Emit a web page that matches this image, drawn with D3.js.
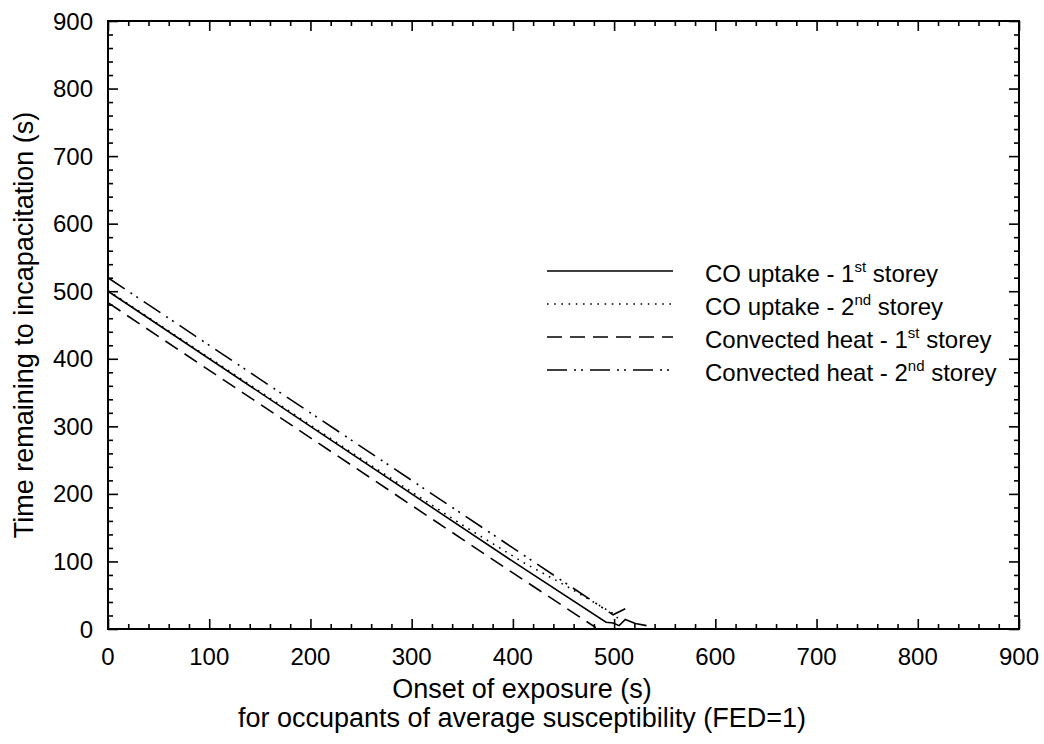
<!DOCTYPE html>
<html>
<head>
<meta charset="utf-8">
<script src="https://cdn.jsdelivr.net/npm/d3@7"></script>
<style>
  html, body { margin: 0; padding: 0; background: #fff; }
  svg { display: block; font-family: Arial, "Liberation Sans", sans-serif; }
</style>
</head>
<body>
<svg id="chart" width="1044" height="744"></svg>
<script>
// ---- data ----
const xTicks = [0, 100, 200, 300, 400, 500, 600, 700, 800, 900];
const yTicks = [0, 100, 200, 300, 400, 500, 600, 700, 800, 900];

const coUptake1st = [[0, 500], [200, 300], [400, 100], [492, 10], [499, 9], [505, 5], [511, 14], [521, 8], [532, 5]];
const coUptake2nd = [[0, 501], [250, 252], [350, 154], [412, 97], [450, 66], [500, 22], [506, 12]];
const heat1st = [[0, 483], [200, 283], [400, 83], [482, 2]];
const heat2nd = [[0, 520], [200, 320], [400, 120], [499, 21], [511, 30]];

const seriesNames = ["CO uptake - 1", "CO uptake - 2", "Convected heat - 1", "Convected heat - 2"];
const seriesSup = ["st", "nd", "st", "nd"];

// ---- layout ----
const W = 1044, H = 744;
const m = { left: 108, right: 25, top: 21, bottom: 115 };
const svg = d3.select("#chart");
const x = d3.scaleLinear().domain([0, 900]).range([m.left, W - m.right]);
const y = d3.scaleLinear().domain([0, 900]).range([H - m.bottom, m.top]);
const FS = 24;   // tick labels and legend
const TFS = 27;  // axis titles

const minor = d3.range(0, 901, 20);

function tickAxis(axisFn, scale, translate, size, vals) {
  const g = svg.append("g").attr("transform", translate)
    .call(axisFn(scale).tickValues(vals).tickSize(size).tickFormat(""));
  g.select(".domain").remove();
  g.selectAll("line").attr("stroke", "#000").attr("stroke-width", 1.6);
  return g;
}
const minorOnly = minor.filter(v => v % 100 !== 0);
// bottom (inward = negative size)
tickAxis(d3.axisBottom, x, `translate(0,${y(0)})`, -5, minorOnly);
tickAxis(d3.axisBottom, x, `translate(0,${y(0)})`, -10, xTicks);
// top
tickAxis(d3.axisTop, x, `translate(0,${y(900)})`, -5, minorOnly);
tickAxis(d3.axisTop, x, `translate(0,${y(900)})`, -10, xTicks);
// left
tickAxis(d3.axisLeft, y, `translate(${x(0)},0)`, -5, minorOnly);
tickAxis(d3.axisLeft, y, `translate(${x(0)},0)`, -10, yTicks);
// right
tickAxis(d3.axisRight, y, `translate(${x(900)},0)`, -5, minorOnly);
tickAxis(d3.axisRight, y, `translate(${x(900)},0)`, -10, yTicks);

// frame
svg.append("rect")
  .attr("x", x(0)).attr("y", y(900))
  .attr("width", x(900) - x(0)).attr("height", y(0) - y(900))
  .attr("fill", "none").attr("stroke", "#000").attr("stroke-width", 2);

// tick labels
svg.append("g").selectAll("text").data(xTicks).join("text")
  .attr("x", d => x(d)).attr("y", y(0) + 36)
  .attr("text-anchor", "middle").attr("font-size", FS).text(d => d);
svg.append("g").selectAll("text").data(yTicks).join("text")
  .attr("x", x(0) - 15).attr("y", d => y(d) + 8.5)
  .attr("text-anchor", "end").attr("font-size", FS).text(d => d);

// axis titles (centred on the figure width)
svg.append("text").attr("x", W / 2).attr("y", 698)
  .attr("text-anchor", "middle").attr("font-size", TFS).text("Onset of exposure (s)");
svg.append("text").attr("x", W / 2).attr("y", 727)
  .attr("text-anchor", "middle").attr("font-size", TFS).text("for occupants of average susceptibility (FED=1)");
svg.append("text")
  .attr("transform", `translate(33,${(y(0) + y(900)) / 2}) rotate(-90)`)
  .attr("text-anchor", "middle").attr("font-size", TFS).text("Time remaining to incapacitation (s)");

// lines
const line = d3.line().x(d => x(d[0])).y(d => y(d[1]));
const styles = [
  { data: coUptake1st, dash: null },
  { data: coUptake2nd, dash: "1.6,5.6" },
  { data: heat1st, dash: "15,8" },
  { data: heat2nd, dash: "20,7,2,5,2,7" }
];
const plot = svg.append("g");
styles.forEach(s => {
  plot.append("path").datum(s.data).attr("d", line)
    .attr("fill", "none").attr("stroke", "#000").attr("stroke-width", 1.6)
    .attr("stroke-dasharray", s.dash);
});

// legend
const leg = svg.append("g");
const rowY = [271, 304, 337, 370];
styles.forEach((s, i) => {
  leg.append("line").attr("x1", 547).attr("x2", 673).attr("y1", rowY[i]).attr("y2", rowY[i])
    .attr("stroke", "#000").attr("stroke-width", 1.6).attr("stroke-dasharray", s.dash);
  const t = leg.append("text").attr("x", 705).attr("y", rowY[i] + 11).attr("font-size", FS);
  t.append("tspan").text(seriesNames[i]);
  t.append("tspan").attr("font-size", 15).attr("dy", -10).text(seriesSup[i]);
  t.append("tspan").attr("dy", 10).text(" storey");
});
</script>
</body>
</html>
